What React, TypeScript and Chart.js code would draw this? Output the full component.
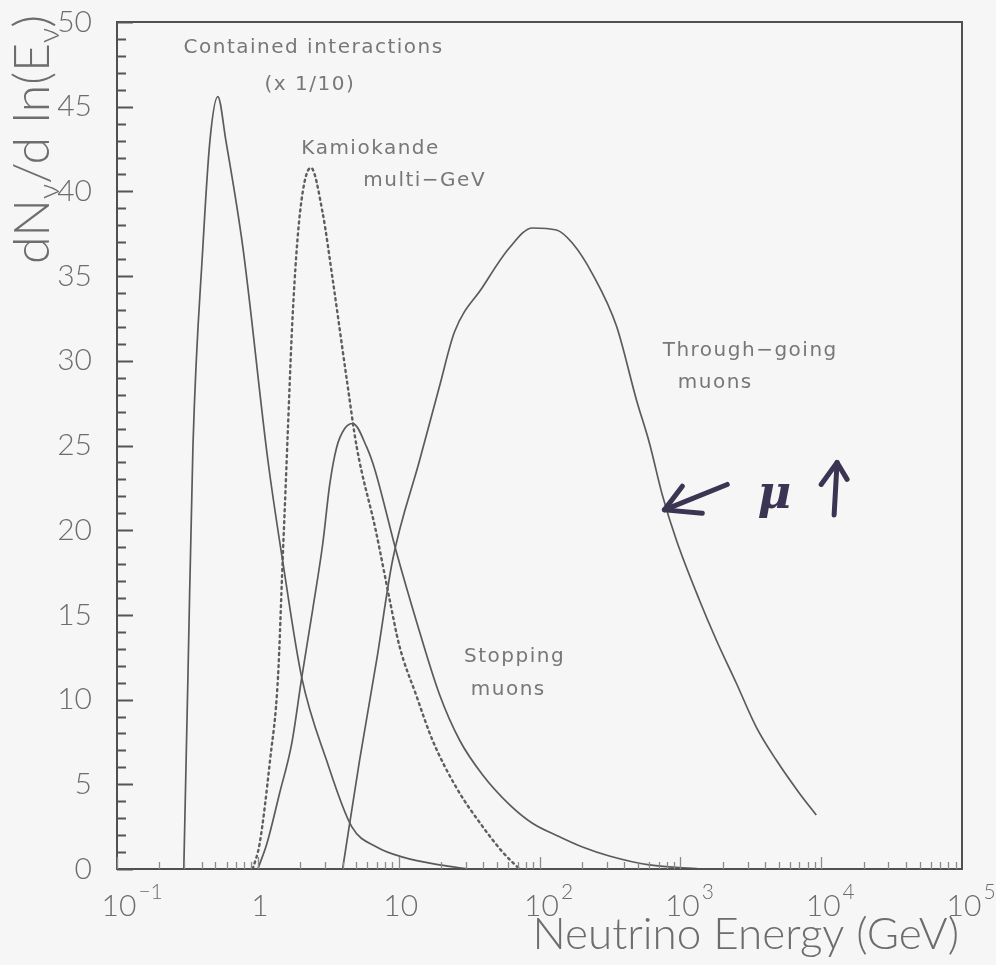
import React, { useEffect, useRef } from "react";
import { Chart, registerables } from "chart.js";

Chart.register(...registerables);

// ---- Data (energy in GeV, value dN/dlnE) ----
const containedE = [0.298, 0.319, 0.346, 0.407, 0.457, 0.52, 0.593, 0.783, 1.18, 1.5, 2.05, 3.08, 4.64, 6.98, 10.7, 19.5, 31.7];
const containedV = [0, 11.4, 24.9, 36.7, 43.0, 45.6, 43.0, 36.7, 24.1, 18.2, 11.3, 6.4, 2.5, 1.3, 0.7, 0.24, 0];

const kamiokandeE = [0.92, 1.03, 1.22, 1.39, 1.5, 1.58, 1.63, 1.77, 1.99, 2.38, 2.89, 3.4, 4.28, 5.04, 6.87, 8.63, 10.1, 13.4, 17.4, 25.7, 39.5, 54.7, 72];
const kamiokandeV = [0, 1.5, 6.4, 11.3, 18.2, 22.8, 25.7, 32.8, 38.7, 41.4, 38.7, 34.8, 28.9, 24.9, 20.0, 15.9, 13.2, 10.2, 7.6, 4.8, 2.5, 1.0, 0];

const stoppingE = [1.0, 1.16, 1.43, 1.74, 2.05, 2.45, 2.89, 3.24, 3.63, 4.14, 4.72, 5.93, 6.76, 9.68, 13.4, 19.5, 27.1, 39.5, 61.2, 89.1, 139, 202, 313, 603, 1365];
const stoppingV = [0, 1.5, 4.5, 7.4, 11.3, 15.3, 19.2, 22.7, 24.9, 26.0, 26.3, 24.9, 23.6, 18.65, 14.6, 10.3, 7.6, 5.55, 3.8, 2.7, 1.9, 1.3, 0.77, 0.24, 0];

const throughE = [4.0, 5.28, 6.98, 9.06, 14.1, 19.5, 24.9, 39.5, 61, 89, 132, 171, 238, 352, 488, 603, 745, 937, 1365, 1800, 2495, 3460, 4800, 6980, 9230];
const throughV = [0, 6.43, 12.34, 18.24, 24.14, 28.5, 31.7, 34.36, 36.66, 37.84, 37.72, 36.95, 35.12, 32.05, 27.69, 25.15, 22.08, 19.42, 15.88, 13.52, 10.98, 8.38, 6.43, 4.49, 3.19];

// ---- Axes ----
const yTickValues = [0, 5, 10, 15, 20, 25, 30, 35, 40, 45, 50];
const xTickValues = [0.1, 1, 10, 100, 1000, 10000, 100000];
const xTickBase = ["10", "1", "10", "10", "10", "10", "10"];
const xTickExp = ["−1", "", "", "2", "3", "4", "5"];
const xTitle = "Neutrino Energy (GeV)";

// ---- Annotations (data coordinates) ----
const noteText = ["Contained interactions", "(x 1/10)", "Kamiokande", "multi−GeV", "Stopping", "muons", "Through−going", "muons"];
const noteE = [2.49, 2.34, 6.32, 15.3, 66.5, 60, 3135, 1770];
const noteV = [48.5, 46.3, 42.5, 40.6, 12.5, 10.6, 30.6, 28.7];

const LINE = "#5b5b5b";
const TEXT = "#6d6d6d";
const FONT = "Lato, 'DejaVu Sans', sans-serif";

const pts = (E: number[], V: number[]) => E.map((e, i) => ({ x: e, y: V[i] }));

const decor = {
  id: "decor",
  beforeDraw(chart: any) {
    const { ctx, width, height } = chart;
    ctx.save();
    ctx.fillStyle = "#f6f6f6";
    ctx.fillRect(0, 0, width, height);
    ctx.restore();
  },
  afterDraw(chart: any) {
    const { ctx, chartArea: a } = chart;
    const x = chart.scales.x;
    const y = chart.scales.y;
    ctx.save();
    // frame
    ctx.strokeStyle = "#505050";
    ctx.lineWidth = 2;
    ctx.strokeRect(a.left, a.top, a.right - a.left, a.bottom - a.top);

    // y ticks (inward)
    ctx.lineWidth = 2;
    ctx.strokeStyle = "#555";
    for (let v = 0; v <= 50; v += 1) {
      const py = Math.round(y.getPixelForValue(v)) + 0.5;
      const len = v % 5 === 0 ? 16 : 9;
      ctx.beginPath();
      ctx.moveTo(a.left, py);
      ctx.lineTo(a.left + len, py);
      ctx.stroke();
    }
    // x ticks (inward)
    ctx.lineWidth = 1.3;
    ctx.strokeStyle = "#8a8a8a";
    for (let k = -1; k <= 4; k++) {
      for (let m = 1; m <= 9; m++) {
        const val = m * Math.pow(10, k);
        const px = Math.round(x.getPixelForValue(val)) + 0.5;
        const len = m === 1 ? 12 : 7;
        ctx.beginPath();
        ctx.moveTo(px, a.bottom);
        ctx.lineTo(px, a.bottom - len);
        ctx.stroke();
      }
    }

    // x tick labels with superscripts
    ctx.fillStyle = TEXT;
    ctx.textBaseline = "alphabetic";
    ctx.textAlign = "left";
    const baseFont = `300 30px ${FONT}`;
    const expFont = `300 21px ${FONT}`;
    xTickValues.forEach((v, i) => {
      const px = x.getPixelForValue(v);
      ctx.font = baseFont;
      const bw = ctx.measureText(xTickBase[i]).width;
      const bx = px - bw / 2 + 2;
      ctx.fillText(xTickBase[i], bx, a.bottom + 47);
      if (xTickExp[i]) {
        ctx.font = expFont;
        ctx.fillText(xTickExp[i], bx + bw + 2, a.bottom + 30);
      }
    });

    // x title
    ctx.font = `300 44px ${FONT}`;
    ctx.textAlign = "right";
    ctx.fillText(xTitle, a.right - 3, a.bottom + 80);

    // y title, rotated, with subscripts
    ctx.save();
    ctx.translate(a.left - 68, a.top + 242);
    ctx.rotate(-Math.PI / 2);
    ctx.textAlign = "left";
    const parts: [string, boolean][] = [["dN", false], ["ν", true], ["/d ln(E", false], ["ν", true], [")", false]];
    let cx = 0;
    parts.forEach(([t, sub]) => {
      ctx.font = sub ? `300 30px ${FONT}` : `300 50px ${FONT}`;
      ctx.fillText(t, cx, sub ? 10 : 0);
      cx += ctx.measureText(t).width;
    });
    ctx.restore();

    // annotations
    ctx.font = `20px 'DejaVu Sans', sans-serif`;
    (ctx as any).letterSpacing = "1.5px";
    ctx.textAlign = "center";
    ctx.textBaseline = "middle";
    ctx.fillStyle = "#777";
    noteText.forEach((t, i) => {
      ctx.fillText(t, x.getPixelForValue(noteE[i]), y.getPixelForValue(noteV[i]));
    });
    (ctx as any).letterSpacing = "0px";

    // handwritten marks
    const P = (e: number, v: number) => [x.getPixelForValue(e), y.getPixelForValue(v)];
    ctx.strokeStyle = "#3b3452";
    ctx.fillStyle = "#3b3452";
    ctx.lineWidth = 5;
    ctx.lineCap = "round";
    ctx.lineJoin = "round";
    const poly = (arr: number[][]) => {
      ctx.beginPath();
      arr.forEach(([e, v], j) => {
        const [px, py] = P(e, v);
        if (j === 0) ctx.moveTo(px, py);
        else ctx.lineTo(px, py);
      });
      ctx.stroke();
    };
    poly([[2153, 22.7], [771, 21.2]]);
    poly([[1033, 22.6], [771, 21.2], [1432, 21.0]]);
    poly([[12360, 20.9], [12970, 24.0]]);
    poly([[10000, 22.7], [12970, 24.0], [15280, 23.0]]);
    ctx.font = `italic bold 46px 'DejaVu Serif', serif`;
    const [mx, my] = P(4645, 22.0);
    ctx.fillText("μ", mx, my);
    ctx.restore();
  },
};

export default function App() {
  const ref = useRef<HTMLCanvasElement>(null);
  useEffect(() => {
    const canvas = ref.current!;
    const chart = new Chart(canvas, {
      type: "line",
      data: {
        datasets: [
          { label: "Contained interactions (x 1/10)", data: pts(containedE, containedV), borderColor: LINE, borderWidth: 1.7 },
          { label: "Kamiokande multi-GeV", data: pts(kamiokandeE, kamiokandeV), borderColor: "#5e5e5e", borderWidth: 2.4, borderDash: [2, 4], borderCapStyle: "round" },
          { label: "Stopping muons", data: pts(stoppingE, stoppingV), borderColor: LINE, borderWidth: 1.7 },
          { label: "Through-going muons", data: pts(throughE, throughV), borderColor: LINE, borderWidth: 1.7 },
        ],
      },
      options: {
        responsive: false,
        animation: false,
        devicePixelRatio: 1,
        layout: { padding: { top: 22, right: 34, left: 0, bottom: 0 } },
        plugins: { legend: { display: false }, tooltip: { enabled: false }, title: { display: false } },
        elements: { point: { radius: 0 }, line: { cubicInterpolationMode: "monotone", fill: false } },
        scales: {
          x: {
            type: "logarithmic",
            min: 0.1,
            max: 100000,
            grid: { display: false },
            border: { display: false },
            ticks: { display: false },
            afterFit: (s: any) => { s.height = 96; s.paddingLeft = 0; s.paddingRight = 0; },
          },
          y: {
            type: "linear",
            min: 0,
            max: 50,
            grid: { display: false },
            border: { display: false },
            afterBuildTicks: (s: any) => { s.ticks = yTickValues.map((v) => ({ value: v })); },
            ticks: { padding: 17, color: TEXT, font: { family: FONT, size: 30, weight: "300" } },
            afterFit: (s: any) => { s.width = 117; s.paddingTop = 0; s.paddingBottom = 0; },
          },
        },
      } as any,
      plugins: [decor],
    });
    return () => chart.destroy();
  }, []);
  return (
    <div style={{ position: "absolute", left: 0, top: 0, width: 996, height: 965 }}>
      <canvas ref={ref} width={996} height={965} style={{ display: "block" }} />
    </div>
  );
}
